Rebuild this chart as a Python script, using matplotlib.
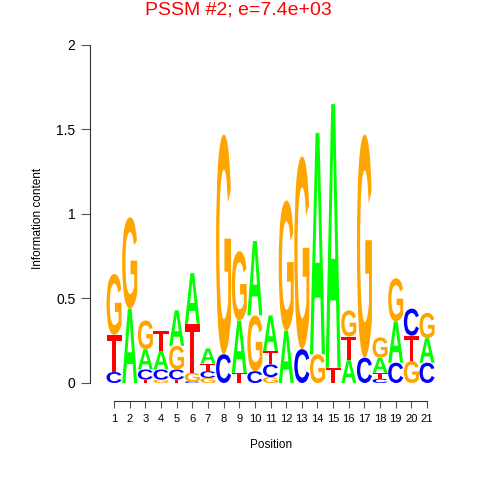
import matplotlib
matplotlib.use("Agg")
import matplotlib.pyplot as plt
import matplotlib.transforms as mtransforms
from matplotlib.font_manager import FontProperties
from matplotlib.patches import PathPatch
from matplotlib.textpath import TextPath

plt.rcParams["font.family"] = ["Liberation Sans", "DejaVu Sans"]

# information content per letter at each position (bits)
positions = list(range(1, 22))
bits_A = [0.0, 0.44, 0.12, 0.11, 0.21, 0.30, 0.09, 0.0, 0.31, 0.44, 0.21,
          0.31, 0.0, 1.31, 1.56, 0.135, 0.0, 0.09, 0.245, 0.0, 0.145]
bits_C = [0.065, 0.0, 0.06, 0.06, 0.06, 0.01, 0.04, 0.17, 0.0, 0.07, 0.075,
          0.0, 0.20, 0.0, 0.0, 0.0, 0.15, 0.025, 0.12, 0.16, 0.12]
bits_G = [0.36, 0.54, 0.17, 0.02, 0.14, 0.05, 0.03, 1.30, 0.41, 0.33, 0.035,
          0.77, 1.14, 0.17, 0.0, 0.155, 1.32, 0.12, 0.255, 0.13, 0.15]
bits_T = [0.22, 0.0, 0.02, 0.12, 0.02, 0.29, 0.045, 0.0, 0.06, 0.0, 0.08,
          0.0, 0.0, 0.0, 0.09, 0.14, 0.0, 0.035, 0.0, 0.15, 0.0]

letter_colors = {"A": "#00FF00", "C": "#0000FF", "G": "#FFA500", "T": "#FF0000"}
letter_font = FontProperties(family="Liberation Sans", weight="bold")


def draw_letter(ax, letter, x, y, width, height):
    path = TextPath((0, 0), letter, size=1, prop=letter_font)
    bb = path.get_extents()
    tr = (mtransforms.Affine2D()
          .translate(-bb.x0, -bb.y0)
          .scale(width / bb.width, height / bb.height)
          .translate(x - width / 2, y))
    ax.add_patch(PathPatch(tr.transform_path(path), fc=letter_colors[letter],
                           ec="none", clip_on=False))


fig = plt.figure(figsize=(4.8, 4.8), dpi=100)
ax = fig.add_axes([0.2213, 0.2021, 0.6846, 0.7042])

for i, pos in enumerate(positions):
    stack = [("A", bits_A[i]), ("C", bits_C[i]), ("G", bits_G[i]), ("T", bits_T[i])]
    stack.sort(key=lambda s: s[1])
    y = 0.0
    for letter, h in stack:
        if h > 0:
            draw_letter(ax, letter, pos, y, 0.96, h)
        y += h

ax.set_xlim(0.5, 21.5)
ax.set_ylim(0, 2)

for side in ["top", "right"]:
    ax.spines[side].set_visible(False)
ax.spines["left"].set_position(("outward", 11.7))
ax.spines["left"].set_bounds(0, 2)
ax.spines["bottom"].set_position(("outward", 13.2))
ax.spines["bottom"].set_bounds(1, 21)
for side in ["left", "bottom"]:
    ax.spines[side].set_color("#333333")
    ax.spines[side].set_linewidth(0.8)

ax.set_yticks([0, 0.5, 1, 1.5, 2])
ax.set_yticklabels(["0", "0.5", "1", "1.5", "2"])
ax.set_xticks(positions)
ax.set_xticklabels([str(p) for p in positions])
ax.tick_params(axis="y", length=6.5, width=0.8, color="#555555", labelsize=10, pad=4)
ax.tick_params(axis="x", length=5, width=0.8, color="#555555", labelsize=8, pad=4)

fig.text(0.497, 1 - 10 / 480, "PSSM #2; e=7.4e+03", color="red",
         fontsize=14, ha="center", va="center")
fig.text(38 / 480, 1 - 218 / 480, "Information content", rotation=90,
         fontsize=8.5, ha="center", va="center")
fig.text(271 / 480, 1 - 445 / 480, "Position", fontsize=8.5,
         ha="center", va="center")

fig.savefig("out.png", dpi=100)
